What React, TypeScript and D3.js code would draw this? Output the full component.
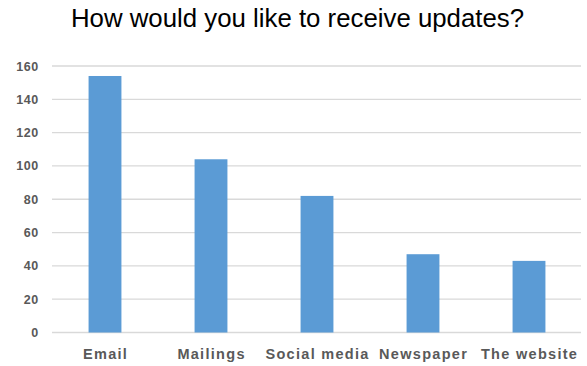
import React from "react";
import * as d3 from "d3";

const categories = ["Email", "Mailings", "Social media", "Newspaper", "The website"];
const values = [154, 104, 82, 47, 43];
const yTicks = [0, 20, 40, 60, 80, 100, 120, 140, 160];
const title = "How would you like to receive updates?";

export default function App() {
  const W = 587, H = 366;
  const x = d3.scaleBand<string>().domain(categories).range([52, 582]).paddingInner(0.69).paddingOuter(0.345);
  const y = d3.scaleLinear().domain([0, 160]).range([332.5, 66]);
  const font = "Liberation Sans, Arial, sans-serif";
  return (
    <svg width={W} height={H} style={{ position: "absolute", left: 0, top: 0 }}>
      <rect width={W} height={H} fill="#fff" />
      <text x={297.5} y={27} textAnchor="middle" fontFamily={font} fontSize={25.8} fill="#000">{title}</text>
      {yTicks.map(t => (
        <g key={t}>
          <line x1={52} x2={581} y1={y(t)} y2={y(t)} stroke="#d9d9d9" strokeWidth={1.3} />
          <text x={38.8} y={y(t)} dy="0.36em" textAnchor="end" fontFamily={font} fontSize={12.5} fontWeight="bold" letterSpacing={0.6} fill="#595959">{t}</text>
        </g>
      ))}
      {categories.map((c, i) => (
        <rect key={c} x={x(c)} y={y(values[i])} width={x.bandwidth()} height={y(0) - y(values[i])} fill="#5b9bd5" />
      ))}
      {categories.map(c => (
        <text key={c} x={(x(c) as number) + x.bandwidth() / 2 + 0.6} y={359} textAnchor="middle" fontFamily={font} fontSize={14.5} fontWeight="bold" letterSpacing={1.3} fill="#595959">{c}</text>
      ))}
    </svg>
  );
}
